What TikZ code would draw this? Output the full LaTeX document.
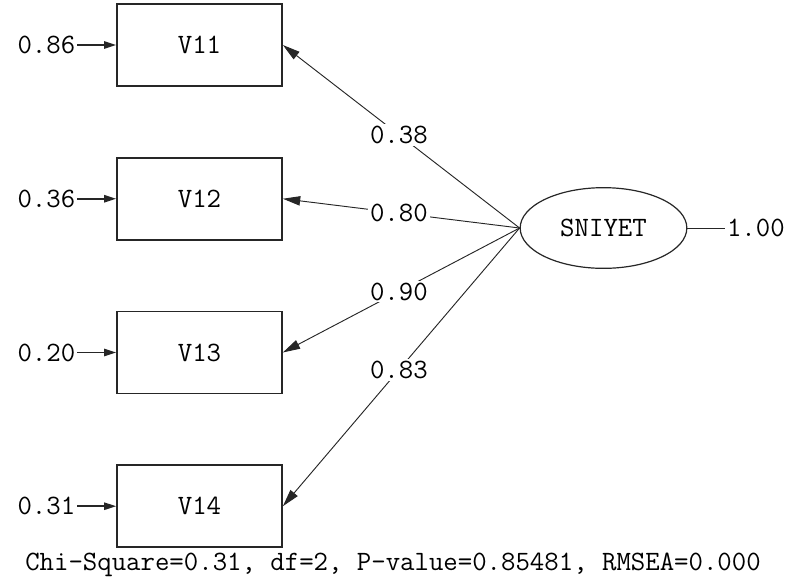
\documentclass[tikz,border=0pt]{standalone}
\usepackage{fontspec}
\usepackage{tikz}
\usetikzlibrary{arrows.meta,positioning,shapes.geometric}

\begin{document}
\begin{tikzpicture}[x=0.75pt,y=-0.75pt,
 font=\ttfamily\fontsize{21}{23}\selectfont,
 b/.style={draw=black!85,line width=1.3pt,minimum width=123.75pt,minimum height=61.5pt,inner sep=0pt},
 lv/.style={draw=black!85,line width=0.9pt,ellipse,minimum width=125pt,minimum height=60.5pt,inner sep=0pt},
 lab/.style={fill=white,inner sep=1.5pt},
 ar/.style={-{Triangle[length=13pt,width=7pt]},draw=black!85,line width=0.7pt},
 er/.style={-{Triangle[length=9pt,width=5.5pt]},draw=black!85,line width=1.2pt}]
\useasboundingbox (0,0) rectangle (788,583);
\node[b] (v11) at (199.5,45) {V11};
\node[b,below=52.5pt of v11] (v12) {V12};
\node[b,below=52.5pt of v12] (v13) {V13};
\node[b,below=52.5pt of v13] (v14) {V14};
\node[lv] (sniyet) at (603.5,228) {SNIYET};
\node[lab,left=29pt of v11] (e11) {0.86};
\node[lab,left=29pt of v12] (e12) {0.36};
\node[lab,left=29pt of v13] (e13) {0.20};
\node[lab,left=29pt of v14] (e14) {0.31};
\node[lab,right=28pt of sniyet] (e0) {1.00};
\node (fit) at (393,565) {Chi-Square=0.31, df=2, P-value=0.85481, RMSEA=0.000};
\draw[er] (e11)--(v11); \draw[er] (e12)--(v12);
\draw[er] (e13)--(v13); \draw[er] (e14)--(v14);
\draw[draw=black!85,line width=0.7pt] (sniyet)--(e0);
\draw[ar] (sniyet.west) -- node[lab,pos=.51] (l11) {0.38} (v11.east);
\draw[ar] (sniyet.west) -- node[lab,pos=.51] (l12) {0.80} (v12.east);
\draw[ar] (sniyet.west) -- node[lab,pos=.51] (l13) {0.90} (v13.east);
\draw[ar] (sniyet.west) -- node[lab,pos=.51] (l14) {0.83} (v14.east);
\end{tikzpicture}
\end{document}
